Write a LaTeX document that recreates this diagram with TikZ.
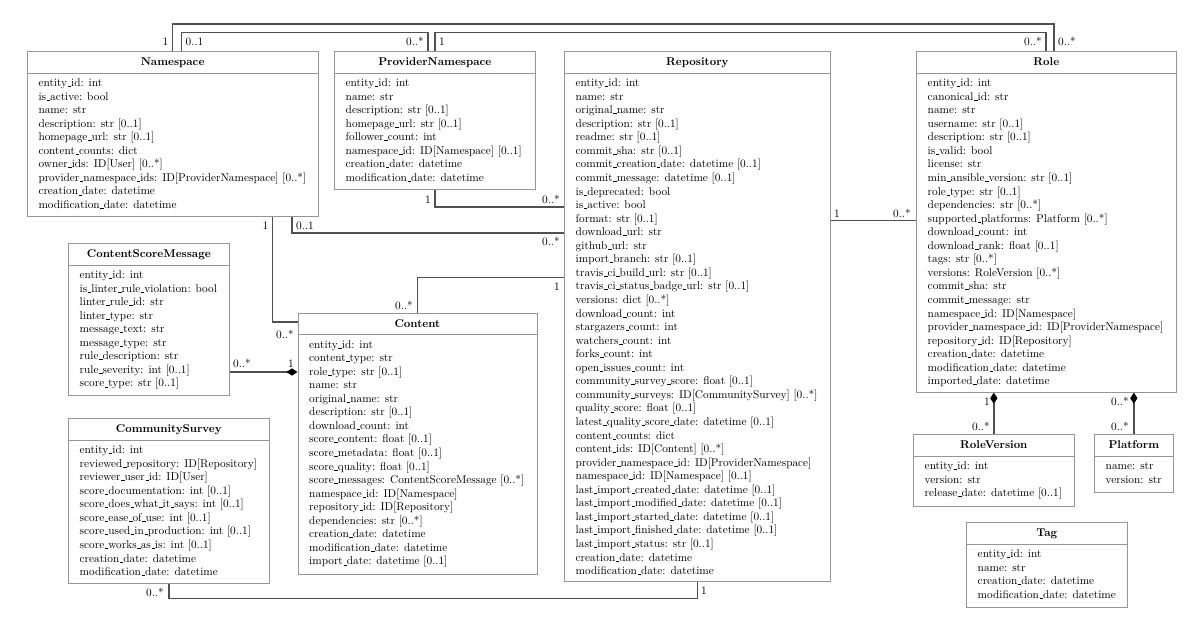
\documentclass[tikz,border=0pt]{standalone}
\usetikzlibrary{calc,arrows.meta}
\definecolor{boxgray}{RGB}{150,150,150}
\definecolor{linegray}{RGB}{80,80,80}
\newcommand{\us}{\leavevmode\kern.06em\vbox{\hrule width.3em}}
\tikzset{
  classbox/.style={draw=boxgray, line width=0.6pt, fill=white, rectangle, inner sep=0pt},
  classtitle/.style={font=\bfseries, inner sep=0pt},
  classbody/.style={align=left, inner sep=0pt},
  sepline/.style={draw=boxgray, line width=0.6pt},
  assoc/.style={draw=linegray, line width=1.2pt},
  mult/.style={inner sep=0pt},
  dia/.tip={Diamond[length=9.8pt,width=6.4pt,color=black]}
}
\newcommand{\umlbox}[7]{%
  \node[classbox, anchor=north west, minimum width={#4*0.885pt}, minimum height={#5*0.885pt}] (#1) at (#2,#3) {};
  \node[classtitle, anchor=base] (#1-t) at ($(#1.north)+(0,14.8)$) {#6};
  \draw[sepline] ($(#1.north west)+(0,22)$) -- ($(#1.north east)+(0,22)$);
  \node[classbody, anchor=north west] (#1-b) at ($(#1.north west)+(11.5,25.8)$) {\strut#7};
}
\begin{document}
\begin{tikzpicture}[x=0.885pt,y=-0.885pt]
\useasboundingbox (0,0) rectangle (1200,626);

\umlbox{ns}{26.8}{51}{291}{165}{Namespace}{entity\us id: int\\is\us active: bool\\name: str\\description: str [0..1]\\homepage\us url: str [0..1]\\content\us counts: dict\\owner\us ids: ID[User] [0..*]\\provider\us namespace\us ids: ID[ProviderNamespace] [0..*]\\creation\us date: datetime\\modification\us date: datetime}

\umlbox{pn}{334}{51}{201}{138}{ProviderNamespace}{entity\us id: int\\name: str\\description: str [0..1]\\homepage\us url: str [0..1]\\follower\us count: int\\namespace\us id: ID[Namespace] [0..1]\\creation\us date: datetime\\modification\us date: datetime}

\umlbox{repo}{564}{51}{266}{530}{Repository}{entity\us id: int\\name: str\\original\us name: str\\description: str [0..1]\\readme: str [0..1]\\commit\us sha: str [0..1]\\commit\us creation\us date: datetime [0..1]\\commit\us message: datetime [0..1]\\is\us deprecated: bool\\is\us active: bool\\format: str [0..1]\\download\us url: str\\github\us url: str\\import\us branch: str [0..1]\\travis\us ci\us build\us url: str [0..1]\\travis\us ci\us status\us badge\us url: str [0..1]\\versions: dict [0..*]\\download\us count: int\\stargazers\us count: int\\watchers\us count: int\\forks\us count: int\\open\us issues\us count: int\\community\us survey\us score: float [0..1]\\community\us surveys: ID[CommunitySurvey] [0..*]\\quality\us score: float [0..1]\\latest\us quality\us score\us date: datetime [0..1]\\content\us counts: dict\\content\us ids: ID[Content] [0..*]\\provider\us namespace\us id: ID[ProviderNamespace]\\namespace\us id: ID[Namespace] [0..1]\\last\us import\us created\us date: datetime [0..1]\\last\us import\us modified\us date: datetime [0..1]\\last\us import\us started\us date: datetime [0..1]\\last\us import\us finished\us date: datetime [0..1]\\last\us import\us status: str [0..1]\\creation\us date: datetime\\modification\us date: datetime}

\umlbox{role}{916}{51}{260}{341}{Role}{entity\us id: int\\canonical\us id: str\\name: str\\username: str [0..1]\\description: str [0..1]\\is\us valid: bool\\license: str\\min\us ansible\us version: str [0..1]\\role\us type: str [0..1]\\dependencies: str [0..*]\\supported\us platforms: Platform [0..*]\\download\us count: int\\download\us rank: float [0..1]\\tags: str [0..*]\\versions: RoleVersion [0..*]\\commit\us sha: str\\commit\us message: str\\namespace\us id: ID[Namespace]\\provider\us namespace\us id: ID[ProviderNamespace]\\repository\us id: ID[Repository]\\creation\us date: datetime\\modification\us date: datetime\\imported\us date: datetime}

\umlbox{csm}{68}{243}{161}{152}{ContentScoreMessage}{entity\us id: int\\is\us linter\us rule\us violation: bool\\linter\us rule\us id: str\\linter\us type: str\\message\us text: str\\message\us type: str\\rule\us description: str\\rule\us severity: int [0..1]\\score\us type: str [0..1]}

\umlbox{content}{297.5}{312.5}{239}{261}{Content}{entity\us id: int\\content\us type: str\\role\us type: str [0..1]\\name: str\\original\us name: str\\description: str [0..1]\\download\us count: int\\score\us content: float [0..1]\\score\us metadata: float [0..1]\\score\us quality: float [0..1]\\score\us messages: ContentScoreMessage [0..*]\\namespace\us id: ID[Namespace]\\repository\us id: ID[Repository]\\dependencies: str [0..*]\\creation\us date: datetime\\modification\us date: datetime\\import\us date: datetime [0..1]}

\umlbox{cs}{68}{418}{201}{165}{CommunitySurvey}{entity\us id: int\\reviewed\us repository: ID[Repository]\\reviewer\us user\us id: ID[User]\\score\us documentation: int [0..1]\\score\us does\us what\us it\us says: int [0..1]\\score\us ease\us of\us use: int [0..1]\\score\us used\us in\us production: int [0..1]\\score\us works\us as\us is: int [0..1]\\creation\us date: datetime\\modification\us date: datetime}

\umlbox{rv}{913}{434}{161}{72}{RoleVersion}{entity\us id: int\\version: str\\release\us date: datetime [0..1]}

\umlbox{pf}{1094}{434}{79}{58}{Platform}{name: str\\version: str}

\umlbox{tag}{966}{522}{161}{85}{Tag}{entity\us id: int\\name: str\\creation\us date: datetime\\modification\us date: datetime}

% connectors
\coordinate (t1) at (172.3,24);
\coordinate (t2) at (1054,24);
\draw[assoc] (ns.north) -- (ns.north |- t1) -- (t2) -- (role.north -| t2);
\coordinate (t3) at (181.5,32.7);
\coordinate (t4) at (428,32.7);
\draw[assoc] (ns.north -| t3) -- (t3) -- (t4) -- (pn.north -| t4);
\coordinate (t5) at (1046,32.7);
\draw[assoc] (pn.north) -- (pn.north |- t5) -- (t5) -- (role.north -| t5);
\coordinate (t6) at (435,207);
\draw[assoc] (pn.south) -- (pn.south |- t6) -- (repo.west |- t6);
\coordinate (t7) at (272.5,322);
\draw[assoc] (ns.south -| t7) -- (t7) -- (content.west |- t7);
\coordinate (t8) at (292,233);
\draw[assoc] (ns.south -| t8) -- (t8) -- (repo.west |- t8);
\coordinate (t9) at (417,277.5);
\draw[assoc] (content.north) -- (content.north |- t9) -- (repo.west |- t9);
\coordinate (t10) at (830,220.7);
\draw[assoc] (repo.east |- t10) -- (role.west |- t10);
\coordinate (t11) at (229,372);
\draw[assoc,-dia] (csm.east |- t11) -- (content.west |- t11);
\coordinate (t12) at (168.5,598.5);
\draw[assoc] (cs.south) -- (cs.south |- t12) -- (repo.south |- t12) -- (repo.south);
\draw[assoc,dia-] (role.south -| rv.north) -- (rv.north);
\draw[assoc,dia-] (role.south -| pf.north) -- (pf.north);

% multiplicities
\node[mult, anchor=base east] (l1) at (168.5,45) {1};
\node[mult, anchor=base west] (l2) at (185.5,45) {0..1};
\node[mult, anchor=base east] (l3) at (424,45) {0..*};
\node[mult, anchor=base west] (l4) at (439,45) {1};
\node[mult, anchor=base east] (l5) at (1042,45) {0..*};
\node[mult, anchor=base west] (l6) at (1058,45) {0..*};
\node[mult, anchor=base east] (l7) at (431,203) {1};
\node[mult, anchor=base east] (l8) at (560,203) {0..*};
\node[mult, anchor=base east] (l9) at (268.5,229) {1};
\node[mult, anchor=base west] (l10) at (296,229) {0..1};
\node[mult, anchor=base east] (l11) at (560,245.5) {0..*};
\node[mult, anchor=base east] (l12) at (413,309) {0..*};
\node[mult, anchor=base east] (l13) at (560,290) {1};
\node[mult, anchor=base east] (l14) at (294,338) {0..*};
\node[mult, anchor=base west] (l15) at (834,217) {1};
\node[mult, anchor=base east] (l16) at (911,217) {0..*};
\node[mult, anchor=base west] (l17) at (233,367) {0..*};
\node[mult, anchor=base east] (l18) at (294,367) {1};
\node[mult, anchor=base east] (l19) at (164,596) {0..*};
\node[mult, anchor=base west] (l20) at (701,594) {1};
\node[mult, anchor=base east] (l21) at (990,405) {1};
\node[mult, anchor=base east] (l22) at (990,430) {0..*};
\node[mult, anchor=base east] (l23) at (1129,405) {0..*};
\node[mult, anchor=base east] (l24) at (1129,430) {0..*};
\end{tikzpicture}
\end{document}
